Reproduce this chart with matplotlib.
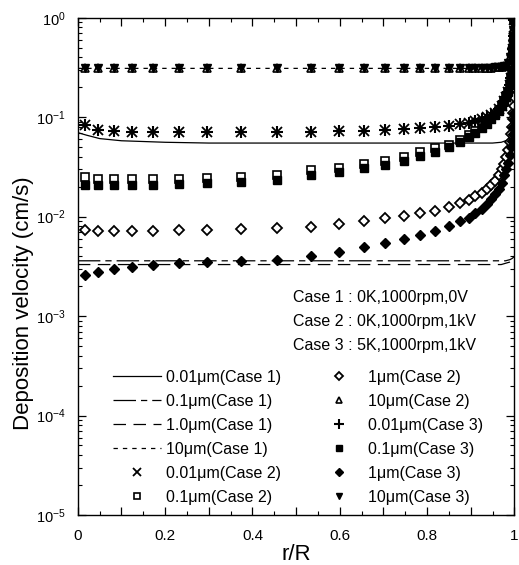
import matplotlib
matplotlib.use('Agg')
import matplotlib.pyplot as plt
from matplotlib.ticker import MultipleLocator, FuncFormatter, LogLocator
import numpy as np

plt.rcParams['font.family'] = ['Liberation Sans', 'DejaVu Sans']
plt.rcParams['mathtext.fontset'] = 'custom'
plt.rcParams['mathtext.rm'] = 'Liberation Sans'

# Case 1 lines
r_line = [0.0, 0.02, 0.05, 0.1, 0.15, 0.2, 0.3, 0.4, 0.5, 0.6, 0.7, 0.8, 0.9,
          0.95, 0.97, 0.98, 0.99, 0.995, 0.998, 1.0]
v001_c1 = [0.070, 0.066, 0.061, 0.058, 0.057, 0.056, 0.055, 0.055, 0.055, 0.055,
           0.055, 0.055, 0.055, 0.055, 0.056, 0.058, 0.060, 0.064, 0.070, 0.080]
v01_c1 = [0.0036, 0.0036, 0.0036, 0.0036, 0.0036, 0.0036, 0.0036, 0.0036, 0.0036, 0.0036,
          0.0036, 0.0036, 0.0036, 0.0036, 0.0036, 0.0036, 0.0037, 0.0038, 0.0039, 0.0040]
v1_c1 = [0.0033, 0.0033, 0.0033, 0.0033, 0.0033, 0.0033, 0.0033, 0.0033, 0.0033, 0.0033,
         0.0033, 0.0033, 0.0033, 0.0033, 0.0033, 0.0034, 0.0035, 0.0036, 0.0037, 0.0038]
v10_c1 = [0.31, 0.31, 0.31, 0.31, 0.31, 0.31, 0.31, 0.31, 0.31, 0.31,
          0.31, 0.31, 0.31, 0.315, 0.32, 0.33, 0.40, 0.55, 0.75, 1.0]

# Case 2 / Case 3 symbols
r_pt = [0.016, 0.046, 0.082, 0.125, 0.173, 0.232, 0.296, 0.374, 0.456, 0.535,
        0.599, 0.656, 0.704, 0.747, 0.784, 0.818, 0.850, 0.875, 0.897, 0.911,
        0.925, 0.937, 0.947, 0.956, 0.964, 0.971, 0.977, 0.982, 0.986, 0.990,
        0.993, 0.995, 0.997, 0.998, 0.999, 1.000]
v001_c23 = [0.083, 0.074, 0.072, 0.071, 0.071, 0.071, 0.071, 0.071, 0.071, 0.071,
            0.072, 0.073, 0.074, 0.076, 0.078, 0.080, 0.082, 0.085, 0.088, 0.091,
            0.095, 0.100, 0.105, 0.110, 0.120, 0.130, 0.145, 0.160, 0.180, 0.210,
            0.250, 0.300, 0.380, 0.480, 0.650, 0.950]
v01_c2 = [0.025, 0.024, 0.024, 0.024, 0.024, 0.024, 0.0245, 0.025, 0.0263, 0.0296,
          0.031, 0.034, 0.036, 0.040, 0.045, 0.049, 0.053, 0.059, 0.066, 0.072,
          0.080, 0.088, 0.096, 0.105, 0.115, 0.130, 0.145, 0.160, 0.180, 0.210,
          0.250, 0.300, 0.380, 0.480, 0.650, 0.950]
v01_c3 = [0.021, 0.021, 0.021, 0.021, 0.021, 0.0215, 0.022, 0.0225, 0.0235, 0.026,
          0.028, 0.031, 0.033, 0.036, 0.041, 0.045, 0.050, 0.056, 0.063, 0.070,
          0.078, 0.086, 0.096, 0.105, 0.115, 0.130, 0.145, 0.160, 0.180, 0.210,
          0.250, 0.300, 0.380, 0.480, 0.650, 0.950]
v1_c2 = [0.0074, 0.0072, 0.0072, 0.0072, 0.0072, 0.0073, 0.0074, 0.0075, 0.0077, 0.0079,
         0.0085, 0.0091, 0.0096, 0.0101, 0.0110, 0.0115, 0.0125, 0.0138, 0.0148, 0.0160,
         0.0175, 0.019, 0.021, 0.023, 0.026, 0.030, 0.034, 0.040, 0.047, 0.057,
         0.068, 0.080, 0.095, 0.110, 0.130, 0.160]
v1_c3 = [0.0026, 0.0028, 0.0030, 0.0031, 0.0033, 0.0034, 0.0035, 0.0036, 0.0037, 0.0040,
         0.0044, 0.0049, 0.0054, 0.0060, 0.0066, 0.0072, 0.0080, 0.0090, 0.0098, 0.0108,
         0.012, 0.0135, 0.015, 0.017, 0.019, 0.022, 0.026, 0.030, 0.035, 0.042,
         0.050, 0.058, 0.068, 0.080, 0.095, 0.110]
v10_c23 = [0.31, 0.31, 0.31, 0.31, 0.31, 0.31, 0.31, 0.31, 0.31, 0.31,
           0.31, 0.31, 0.31, 0.31, 0.31, 0.31, 0.31, 0.31, 0.31, 0.31,
           0.312, 0.314, 0.316, 0.318, 0.32, 0.322, 0.325, 0.33, 0.35, 0.40,
           0.45, 0.55, 0.65, 0.75, 0.85, 1.0]

case_notes = ['Case 1 : 0K,1000rpm,0V', 'Case 2 : 0K,1000rpm,1kV', 'Case 3 : 5K,1000rpm,1kV']

fig = plt.figure(figsize=(5.19, 5.65), dpi=100)
ax = fig.add_axes([0.150, 0.0885, 0.841, 0.880])

k = 'black'
ax.plot(r_line, v001_c1, '-', color=k, lw=0.9, label='0.01\u03bcm(Case 1)')
ax.plot(r_line, v01_c1, color=k, lw=0.9, dashes=(18, 4, 5, 4), label='0.1\u03bcm(Case 1)')
ax.plot(r_line, v1_c1, color=k, lw=0.9, dashes=(10, 6), label='1.0\u03bcm(Case 1)')
ax.plot(r_line, v10_c1, color=k, lw=0.9, dashes=(3.5, 4), label='10\u03bcm(Case 1)')
ax.plot(r_pt, v001_c23, 'x', color=k, ms=7, mew=1.3, ls='none', label='0.01\u03bcm(Case 2)')
ax.plot(r_pt, v01_c2, 's', mfc='white', mec=k, ms=6, mew=1.2, ls='none', label='0.1\u03bcm(Case 2)')
ax.plot(r_pt, v1_c2, 'D', mfc='white', mec=k, ms=5.5, mew=1.3, ls='none', label='1\u03bcm(Case 2)')
ax.plot(r_pt, v10_c23, '^', mfc='white', mec=k, ms=6, mew=1.2, ls='none', label='10\u03bcm(Case 2)')
ax.plot(r_pt, v001_c23, '+', color=k, ms=9, mew=1.5, ls='none', label='0.01\u03bcm(Case 3)')
ax.plot(r_pt, v01_c3, 's', color=k, ms=6, ls='none', label='0.1\u03bcm(Case 3)')
ax.plot(r_pt, v1_c3, 'D', color=k, ms=5.5, ls='none', label='1\u03bcm(Case 3)')
ax.plot(r_pt, v10_c23, 'v', color=k, ms=6, ls='none', label='10\u03bcm(Case 3)')

ax.set_yscale('log')
ax.set_xlim(0, 1)
ax.set_ylim(1e-5, 1)
ax.xaxis.set_major_locator(MultipleLocator(0.1))
ax.xaxis.set_minor_locator(MultipleLocator(0.05))
ax.xaxis.set_major_formatter(FuncFormatter(
    lambda v, p: ('0' if abs(v) < 1e-9 else ('1' if abs(v - 1) < 1e-9 else '%.1f' % v))
    if round(v * 10) % 2 == 0 else ''))
ax.yaxis.set_minor_locator(LogLocator(base=10, subs=np.arange(2, 10)))
ax.tick_params(which='both', direction='in', top=True, right=True, labelsize=10.5)
ax.tick_params(which='major', length=6, width=0.9)
ax.tick_params(which='minor', length=3, width=0.8)
ax.tick_params(axis='x', which='major', pad=10, labelsize=11)
ax.tick_params(axis='y', which='major', pad=9)
for s in ax.spines.values():
    s.set_linewidth(1.0)

ax.set_xlabel('r/R', fontsize=16, labelpad=1)
ax.set_ylabel('Deposition velocity (cm/s)', fontsize=16)
ax.yaxis.set_label_coords(-0.10, 0.425)

for i, t in enumerate(case_notes):
    ax.text(0.494, 0.437 - i * 0.0485, t, transform=ax.transAxes, fontsize=11.5,
            va='center', ha='left')

h, l = ax.get_legend_handles_labels()
ax.legend(h, l, ncol=2, frameon=False,
          loc='lower left', bbox_to_anchor=(0.063, 0.005), fontsize=11.5,
          handlelength=3.0, handletextpad=0.3, columnspacing=2.15,
          labelspacing=0.56, markerscale=0.75, borderpad=0)

fig.savefig('out.png', dpi=100)
